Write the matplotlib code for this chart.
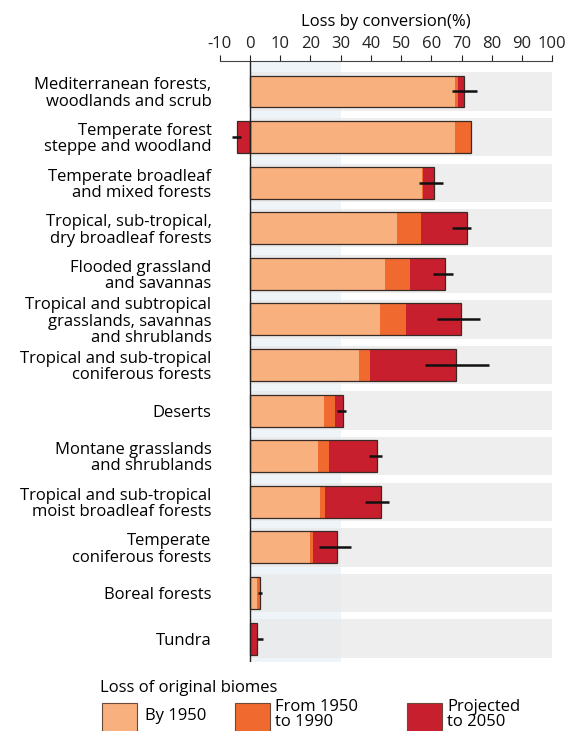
import numpy as np
import matplotlib.pyplot as plt
from matplotlib.patches import Rectangle

plt.rcParams['font.family'] = ['Open Sans', 'DejaVu Sans']
plt.rcParams['axes.unicode_minus'] = False

biomes = [
    "Mediterranean forests,\nwoodlands and scrub",
    "Temperate forest\nsteppe and woodland",
    "Temperate broadleaf\nand mixed forests",
    "Tropical, sub-tropical,\ndry broadleaf forests",
    "Flooded grassland\nand savannas",
    "Tropical and subtropical\ngrasslands, savannas\nand shrublands",
    "Tropical and sub-tropical\nconiferous forests",
    "Deserts",
    "Montane grasslands\nand shrublands",
    "Tropical and sub-tropical\nmoist broadleaf forests",
    "Temperate\nconiferous forests",
    "Boreal forests",
    "Tundra",
]
by_1950 = [68.0, 68.0, 57.0, 48.6, 44.7, 43.1, 36.1, 24.5, 22.6, 23.2, 19.9, 2.4, 0.0]
from_1950_1990 = [0.7, 5.0, 0.4, 8.0, 8.1, 8.6, 3.7, 3.7, 3.4, 1.7, 0.9, 0.9, 0.0]
to_2050 = [2.0, -4.4, 3.4, 15.2, 11.8, 18.1, 28.4, 2.7, 16.0, 18.4, 7.9, 0.0, 2.2]
err_mid = [71.0, -4.5, 60.0, 70.0, 64.0, 69.0, 68.5, 30.2, 41.5, 42.0, 28.0, 3.3, 3.3]
err_half = [4.0, 1.5, 4.0, 3.0, 3.3, 7.0, 10.5, 1.4, 2.2, 4.0, 5.3, 0.6, 1.1]

legend_labels = ["By 1950", "From 1950\nto 1990", "Projected\nto 2050"]
c_1950 = "#f8b07e"
c_1990 = "#f06a30"
c_2050 = "#c81f2f"
edge = "#3a2a25"
FS = 12

fig = plt.figure(figsize=(5.71, 7.31), dpi=100)
ax = fig.add_axes([0.385, 0.094, 0.582, 0.822])

y = np.arange(len(biomes))
n = len(biomes)

# faint backdrop: bluish tint near zero and grey row bands
ax.axvspan(0, 30, color="#eef4f7", zorder=0, lw=0)
ax.barh(y, 100, left=0, height=0.84, color="#e9e9e9", zorder=0.5, lw=0, alpha=0.75)

h = 0.7
b1 = np.array(by_1950)
b2 = np.array(from_1950_1990)
b3 = np.array(to_2050)
left3 = np.where(b3 >= 0, b1 + b2, 0)
ax.barh(y, b1, height=h, color=c_1950, edgecolor="none", zorder=2)
ax.barh(y, b2, left=b1, height=h, color=c_1990, edgecolor="none", zorder=2)
ax.barh(y, b3, left=left3, height=h, color=c_2050, edgecolor="none", zorder=2)

# outline around each stacked bar
for i in range(n):
    lo = min(0, b3[i])
    hi = max(b1[i] + b2[i] + max(b3[i], 0), 0)
    if hi > 0:
        ax.add_patch(Rectangle((0, i - h / 2), hi, h, fill=False, ec=edge, lw=0.9, zorder=3))
    if lo < 0:
        ax.add_patch(Rectangle((lo, i - h / 2), -lo, h, fill=False, ec=edge, lw=0.9, zorder=3))

ax.errorbar(err_mid, y, xerr=err_half, fmt="none", ecolor="#111111", elinewidth=1.8,
            capsize=0, zorder=4)

ax.axvline(0, color="#222222", lw=1.0, zorder=5)

ax.set_xlim(-10, 100)
ax.set_ylim(n - 0.5 + 0.02, -0.66)
ax.set_yticks(y)
ax.set_yticklabels(biomes, fontsize=FS, linespacing=1.02, ha="right")
ax.tick_params(axis="y", length=0, pad=6)

ax.xaxis.tick_top()
ax.xaxis.set_label_position("top")
ax.set_xticks(np.arange(-10, 101, 10))
ax.tick_params(axis="x", direction="out", length=4, width=0.8, pad=3, labelsize=FS,
               colors="#222222")
ax.set_xlabel("Loss by conversion(%)", fontsize=FS, labelpad=7)

for side in ["left", "right", "bottom"]:
    ax.spines[side].set_visible(False)
ax.spines["top"].set_linewidth(0.8)
ax.spines["top"].set_color("#444444")

# legend drawn in figure pixels
W, H = 571, 731
fig.text(100 / W, 1 - 688 / H, "Loss of original biomes", fontsize=FS, va="center", ha="left")
legend_colors = [c_1950, c_1990, c_2050]
patch_x = [102, 235, 407]
for px, col, lab in zip(patch_x, legend_colors, legend_labels):
    fig.patches.append(Rectangle((px / W, 1 - 734 / H), 35 / W, 31 / H, transform=fig.transFigure,
                                 facecolor=col, edgecolor="#6b4a3a", lw=0.8))
    if "\n" in lab:
        fig.text((px + 40) / W, 1 - 699 / H, lab, fontsize=FS, va="top", ha="left", linespacing=0.92)
    else:
        fig.text((px + 43) / W, 1 - 716 / H, lab, fontsize=FS, va="center", ha="left")

fig.savefig("out.png", dpi=100)
